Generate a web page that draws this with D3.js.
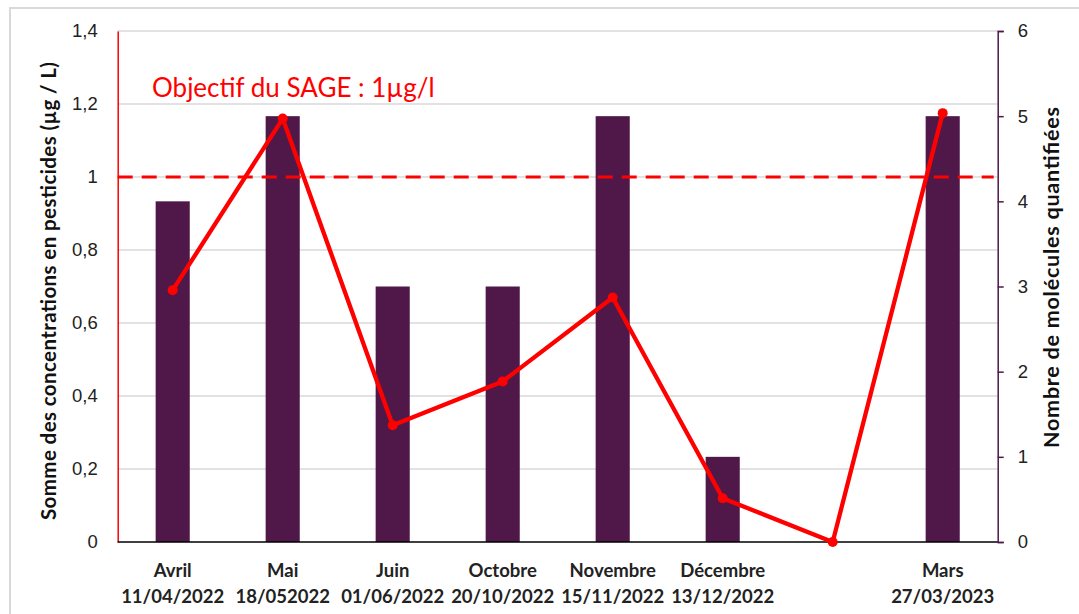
<!DOCTYPE html>
<html><head><meta charset="utf-8">
<script src="https://cdn.jsdelivr.net/npm/d3@7"></script>
<style>body{margin:0;background:#fff}svg{display:block}</style>
</head><body>
<svg id="c" width="1079" height="614"></svg>
<script>
const months = ["Avril","Mai","Juin","Octobre","Novembre","Décembre","","Mars"];
const dates = ["11/04/2022","18/052022","01/06/2022","20/10/2022","15/11/2022","13/12/2022","","27/03/2023"];
const molecules = [4,5,3,3,5,1,null,5];
const concentrations = [0.69,1.16,0.32,0.44,0.67,0.12,0,1.175];
const leftTicks = [0,0.2,0.4,0.6,0.8,1,1.2,1.4];
const rightTicks = [0,1,2,3,4,5,6];
const objective = 1;
const objectiveLabel = "Objectif du SAGE : 1µg/l";
const leftTitle = "Somme des concentrations en pesticides (µg / L)";
const rightTitle = "Nombre de molécules quantifiées";

const svg = d3.select("#c");
const L = 117.7, R = 997.7, T = 31, B = 542;
const purple = "#4F1848", red = "#FF0000";

svg.append("rect").attr("x",10).attr("y",8).attr("width",1200).attr("height",800)
  .attr("fill","none").attr("stroke","#d9d9d9").attr("stroke-width",2);

const idx = months.map((d,i)=>i);
const x = d3.scaleBand().domain(idx).range([L,R]).paddingInner(0.69).paddingOuter(0.345);
const yL = d3.scaleLinear().domain([0,1.4]).range([B,T]);
const yR = d3.scaleLinear().domain([0,6]).range([B,T]);

// gridlines
svg.append("g").selectAll("line").data(leftTicks.filter(d=>d>0)).join("line")
  .attr("x1",L).attr("x2",R).attr("y1",d=>yL(d)).attr("y2",d=>yL(d))
  .attr("stroke","#d9d9d9").attr("stroke-width",1.3);

// bars
svg.append("g").selectAll("rect").data(idx.filter(i=>molecules[i]!=null)).join("rect")
  .attr("x",i=>x(i)).attr("width",x.bandwidth())
  .attr("y",i=>yR(molecules[i])).attr("height",i=>B-yR(molecules[i]))
  .attr("fill",purple);

// objective dashed line
svg.append("line").attr("x1",L).attr("x2",R-4).attr("y1",yL(objective)).attr("y2",yL(objective))
  .attr("stroke",red).attr("stroke-width",3).attr("stroke-dasharray","15,9");

// left axis
const axL = svg.append("g").attr("transform",`translate(${L},0)`)
  .call(d3.axisLeft(yL).tickValues(leftTicks).tickSize(0).tickPadding(20)
    .tickFormat(d=>String(d).replace(".",",")));
axL.select(".domain").attr("stroke",red).attr("stroke-width",1.5);
axL.selectAll("text").attr("font-family","Liberation Sans, Arial, sans-serif")
  .attr("font-size",18.5).attr("fill","#222");

// right axis
const axR = svg.append("g").attr("transform",`translate(${R},0)`)
  .call(d3.axisRight(yR).tickValues(rightTicks).tickSize(6).tickSizeOuter(6).tickPadding(14)
    .tickFormat(d3.format("d")));
axR.select(".domain").attr("stroke",purple).attr("stroke-width",1.5);
axR.selectAll(".tick line").attr("stroke",purple).attr("stroke-width",1.5);
axR.selectAll("text").attr("font-family","Liberation Sans, Arial, sans-serif")
  .attr("font-size",18.5).attr("fill","#222");

// bottom axis line
svg.append("line").attr("x1",L).attr("x2",R).attr("y1",B).attr("y2",B)
  .attr("stroke","#000").attr("stroke-width",1.5);

// x labels
const xl = svg.append("g").selectAll("text").data(idx).join("text")
  .attr("x",i=>x(i)+x.bandwidth()/2).attr("text-anchor","middle")
  .attr("font-family","Lato, sans-serif").attr("font-weight","bold").attr("font-size",18.5).attr("fill","#222");
xl.append("tspan").attr("x",i=>x(i)+x.bandwidth()/2).attr("y",577).text(i=>months[i]);
xl.append("tspan").attr("x",i=>x(i)+x.bandwidth()/2).attr("y",603).text(i=>dates[i]);

// line
const line = d3.line().x(i=>x(i)+x.bandwidth()/2).y(i=>yL(concentrations[i]));
svg.append("path").datum(idx).attr("d",line).attr("fill","none")
  .attr("stroke",red).attr("stroke-width",4.3).attr("stroke-linejoin","round");
svg.append("g").selectAll("circle").data(idx).join("circle")
  .attr("cx",i=>x(i)+x.bandwidth()/2).attr("cy",i=>yL(concentrations[i])).attr("r",5).attr("fill",red);

// objective label
svg.append("text").attr("x",152).attr("y",97).attr("font-family","Lato, sans-serif")
  .attr("font-size",26).attr("fill",red).text(objectiveLabel);

// axis titles
svg.append("text").attr("transform",`translate(56,291) rotate(-90)`)
  .attr("text-anchor","middle").attr("font-family","Lato, sans-serif").attr("font-weight","bold")
  .attr("font-size",20.5).attr("fill","#111").attr("textLength",458).attr("lengthAdjust","spacing")
  .text(leftTitle);
svg.append("text").attr("transform",`translate(1059,277.5) rotate(-90)`)
  .attr("text-anchor","middle").attr("font-family","Lato, sans-serif").attr("font-weight","bold")
  .attr("font-size",21.5).attr("fill","#111").attr("textLength",341).attr("lengthAdjust","spacing")
  .text(rightTitle);
</script>
</body></html>
